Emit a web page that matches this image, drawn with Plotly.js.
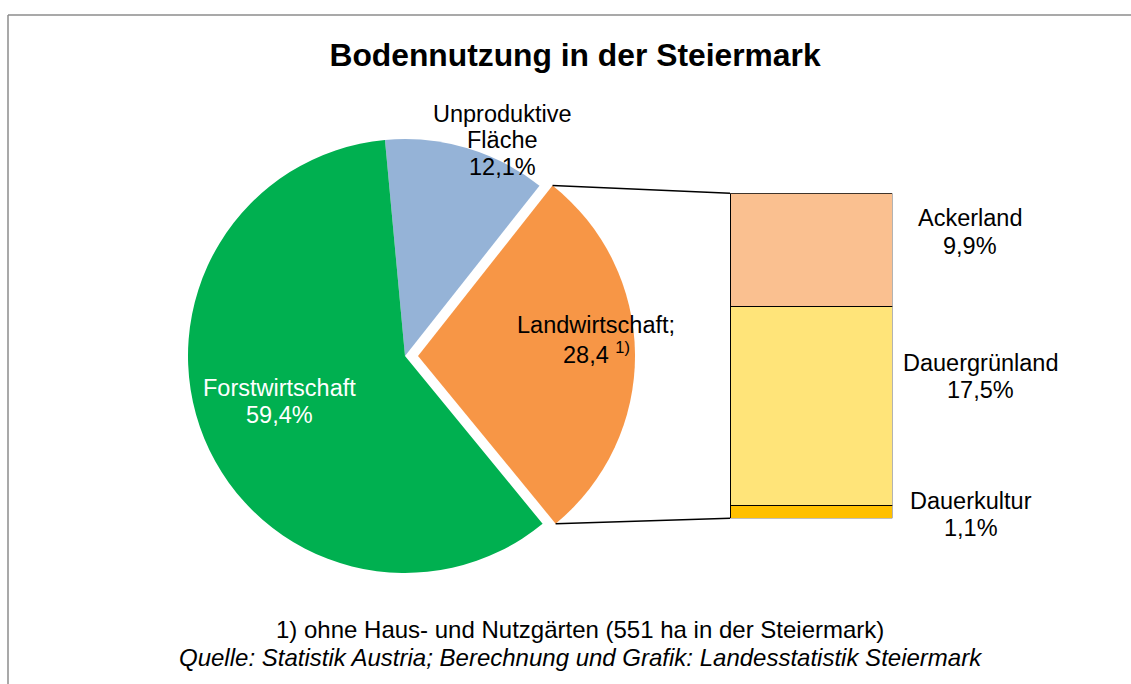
<!DOCTYPE html>
<html>
<head>
<meta charset="utf-8">
<script src="https://cdn.plot.ly/plotly-3.0.1.min.js"></script>
<style>html,body{margin:0;padding:0;background:#fff;}#chart{width:1131px;height:684px;}</style>
</head>
<body>
<div id="chart"></div>
<script>
// ---- data ----
const pieLabels = ['Unproduktive Fläche', 'Landwirtschaft', 'Forstwirtschaft'];
const pieValues = [12.1, 28.4, 59.4];
const pieColors = ['#95B3D7', '#F79646', '#00B050'];
const piePull = [0, 0.06, 0];

const barLabels = ['Dauerkultur', 'Dauergrünland', 'Ackerland'];
const barValues = [1.1, 17.5, 9.9];
const barColors = ['#FFC000', '#FFE479', '#FAC090'];

const titleText = 'Bodennutzung in der Steiermark';
const footnote = '1) ohne Haus- und Nutzgärten (551 ha in der Steiermark)';
const sourceText = 'Quelle: Statistik Austria; Berechnung und Grafik: Landesstatistik Steiermark';

// ---- layout geometry (pixels) ----
const W = 1131, H = 684;
const FONT = 'Liberation Sans, Arial, sans-serif';
const fs = 23.5;
const px = x => x / W;
const py = y => 1 - y / H;

const pieCx = 405, pieCy = 356, pieR = 217, rotation = -5.3;
const maxPull = Math.max(...piePull);
const half = pieR * (1 + maxPull);

const barLeft = 730, barRight = 892.3, barTop = 193.3, barBottom = 518.3;

const fmt = v => v.toFixed(1).replace('.', ',');

// ---- traces ----
const traces = [{
  type: 'pie',
  labels: pieLabels,
  values: pieValues,
  sort: false,
  direction: 'clockwise',
  rotation: rotation,
  pull: piePull,
  marker: {colors: pieColors, line: {width: 0}},
  textinfo: 'none',
  hoverinfo: 'label+percent',
  showlegend: false,
  domain: {x: [px(pieCx - half), px(pieCx + half)], y: [py(pieCy + half), py(pieCy - half)]}
}];
barLabels.forEach((lab, i) => {
  traces.push({
    type: 'bar',
    x: [0],
    y: [barValues[i]],
    name: lab,
    width: 1,
    marker: {color: barColors[i], line: {color: '#000', width: 1.3}},
    showlegend: false,
    hoverinfo: 'name+y'
  });
});

// ---- connector lines computed from pie values ----
const total = pieValues.reduce((a, b) => a + b, 0);
const cumBefore = pieValues.slice(0, 1).reduce((a, b) => a + b, 0);
const aStart = (rotation + 360 * cumBefore / total) * Math.PI / 180;
const aEnd = (rotation + 360 * (cumBefore + pieValues[1]) / total) * Math.PI / 180;
const aMid = (aStart + aEnd) / 2;
const pcx = pieCx + piePull[1] * pieR * Math.sin(aMid);
const pcy = pieCy - piePull[1] * pieR * Math.cos(aMid);
const p1 = [pcx + pieR * Math.sin(aStart), pcy - pieR * Math.cos(aStart)];
const p2 = [pcx + pieR * Math.sin(aEnd), pcy - pieR * Math.cos(aEnd)];

const shapes = [
  {type: 'line', xref: 'paper', yref: 'paper', x0: px(p1[0]), y0: py(p1[1]), x1: px(barLeft), y1: py(barTop), line: {color: '#000', width: 1.5}},
  {type: 'line', xref: 'paper', yref: 'paper', x0: px(p2[0]), y0: py(p2[1]), x1: px(barLeft), y1: py(barBottom), line: {color: '#000', width: 1.5}},
  // frame
  {type: 'line', xref: 'paper', yref: 'paper', x0: px(8), y0: py(15), x1: 1, y1: py(15), line: {color: '#8c8c8c', width: 1.5}},
  {type: 'line', xref: 'paper', yref: 'paper', x0: px(8), y0: py(15), x1: px(8), y1: 0, line: {color: '#8c8c8c', width: 1.5}}
];

// ---- labels ----
const ann = [];
function addLines(lines, cx, ys, color, size) {
  lines.forEach((t, i) => {
    ann.push({
      xref: 'paper', yref: 'paper', x: px(cx), y: py(ys[i]),
      xanchor: 'center', yanchor: 'middle', showarrow: false, text: t,
      font: {family: FONT, size: size || fs, color: color}
    });
  });
}
addLines(['Unproduktive', 'Fläche', fmt(pieValues[0]) + '%'], 502, [113.5, 140, 167.5], '#000');
addLines(['Landwirtschaft;', fmt(pieValues[1]) + ' <sup>1)</sup>'], 596, [324.7, 352.5], '#000');
addLines([pieLabels[2], fmt(pieValues[2]) + '%'], 279, [387.5, 415.5], '#fff');
addLines([barLabels[2], fmt(barValues[2]) + '%'], 970, [218.5, 245.5], '#000');
addLines([barLabels[1], fmt(barValues[1]) + '%'], 980, [363, 390], '#000');
addLines([barLabels[0], fmt(barValues[0]) + '%'], 971, [500.5, 527.5], '#000');
addLines([footnote], 580, [629], '#000', 24);
addLines(['<i>' + sourceText + '</i>'], 581, [657], '#000', 24);

const layout = {
  width: W, height: H,
  margin: {l: 0, r: 0, t: 0, b: 0},
  paper_bgcolor: '#fff', plot_bgcolor: 'rgba(0,0,0,0)',
  barmode: 'stack',
  bargap: 0,
  title: {
    text: '<b>' + titleText + '</b>',
    font: {family: FONT, size: 31.8, color: '#000'},
    x: px(575), xanchor: 'center', xref: 'paper',
    y: py(55), yanchor: 'middle', yref: 'container'
  },
  xaxis: {domain: [px(barLeft), px(barRight)], range: [-0.5, 0.5], visible: false, fixedrange: true},
  yaxis: {domain: [py(barBottom), py(barTop)], range: [0, barValues.reduce((a, b) => a + b, 0)], visible: false, fixedrange: true},
  shapes: shapes,
  annotations: ann,
  showlegend: false
};

Plotly.newPlot('chart', traces, layout, {displayModeBar: false, staticPlot: true});
</script>
</body>
</html>
